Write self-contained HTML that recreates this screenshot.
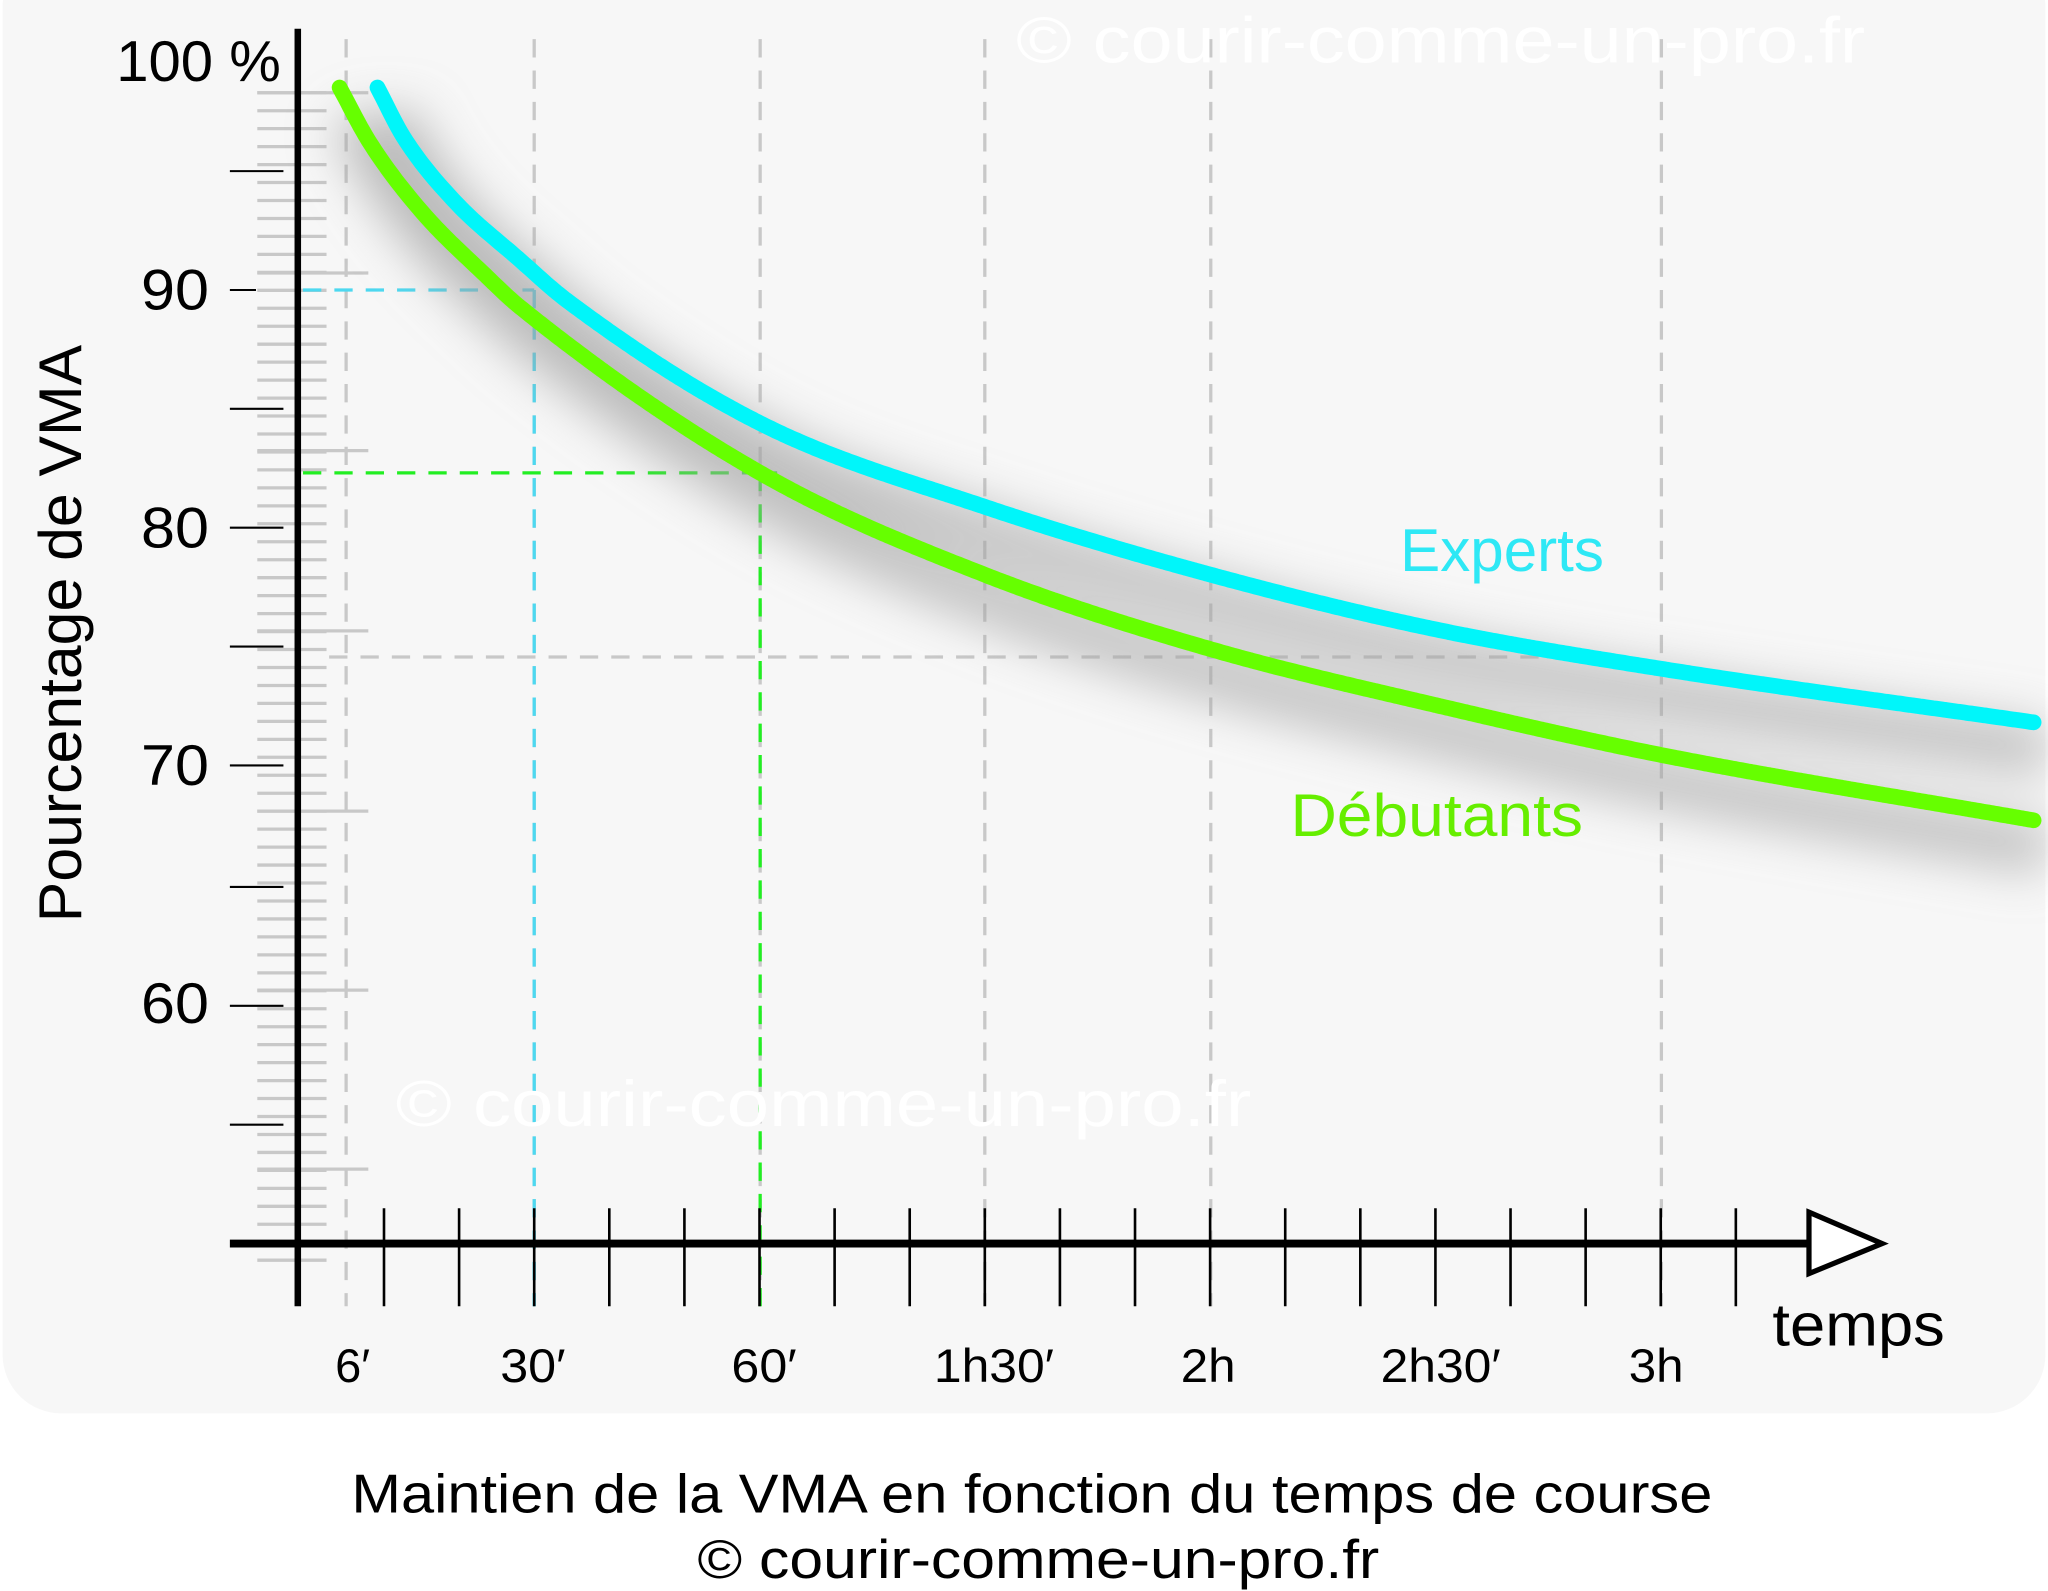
<!DOCTYPE html>
<html><head><meta charset="utf-8"><style>
html,body{margin:0;padding:0;background:#fff;}
svg{display:block;}
text{font-family:"Liberation Sans",sans-serif;}
</style></head><body>
<svg id="s" width="2048" height="1591" viewBox="0 0 1568 1218" preserveAspectRatio="none" xmlns="http://www.w3.org/2000/svg">
<defs>
<filter id="blur" x="-20%" y="-50%" width="140%" height="200%"><feGaussianBlur stdDeviation="18"/></filter>
</defs>
<rect x="2" y="-40" width="1564" height="1122" rx="45" fill="#f7f7f7"/>
<g id="grid"></g>
<text x="778" y="48" font-size="50" fill="#ffffff" textLength="650" lengthAdjust="spacingAndGlyphs">© courir-comme-un-pro.fr</text>
<text x="303" y="862" font-size="50" fill="#ffffff" textLength="655" lengthAdjust="spacingAndGlyphs">© courir-comme-un-pro.fr</text>
<g id="curves"></g>
<line x1="228" y1="22" x2="228" y2="1000" stroke="#000" stroke-width="5"/>
<line x1="176" y1="952" x2="1386" y2="952" stroke="#000" stroke-width="6"/>
<polygon points="1385,928 1441,952 1385,975" fill="#fff" stroke="#000" stroke-width="4" stroke-linejoin="miter"/>
<g font-size="44" fill="#000" text-anchor="end">
<text x="215" y="62" textLength="126" lengthAdjust="spacingAndGlyphs">100 %</text>
<text x="160" y="237" textLength="52" lengthAdjust="spacingAndGlyphs">90</text>
<text x="160" y="419" textLength="52" lengthAdjust="spacingAndGlyphs">80</text>
<text x="160" y="601" textLength="52" lengthAdjust="spacingAndGlyphs">70</text>
<text x="160" y="783" textLength="52" lengthAdjust="spacingAndGlyphs">60</text>
</g>
<text transform="translate(62,485) rotate(-90)" font-size="46" text-anchor="middle" fill="#000" textLength="442" lengthAdjust="spacingAndGlyphs">Pourcentage de VMA</text>
<g font-size="36" fill="#000" text-anchor="middle">
<text x="270" y="1058">6′</text>
<text x="408" y="1058" textLength="50" lengthAdjust="spacingAndGlyphs">30′</text>
<text x="585" y="1058" textLength="50" lengthAdjust="spacingAndGlyphs">60′</text>
<text x="761" y="1058" textLength="92" lengthAdjust="spacingAndGlyphs">1h30′</text>
<text x="925" y="1058" textLength="42" lengthAdjust="spacingAndGlyphs">2h</text>
<text x="1103" y="1058" textLength="92" lengthAdjust="spacingAndGlyphs">2h30′</text>
<text x="1268" y="1058" textLength="42" lengthAdjust="spacingAndGlyphs">3h</text>
</g>
<text x="1357" y="1030" font-size="46" fill="#000" textLength="132" lengthAdjust="spacingAndGlyphs">temps</text>
<text x="1072" y="437" font-size="46" fill="#2ee8f5" textLength="156" lengthAdjust="spacingAndGlyphs">Experts</text>
<text x="988" y="640" font-size="46" fill="#66ee00" textLength="224" lengthAdjust="spacingAndGlyphs">Débutants</text>
<text x="790" y="1158" font-size="42" fill="#000" text-anchor="middle" textLength="1042" lengthAdjust="spacingAndGlyphs">Maintien de la VMA en fonction du temps de course</text>
<text x="795" y="1208" font-size="42" fill="#000" text-anchor="middle" textLength="522" lengthAdjust="spacingAndGlyphs">© courir-comme-un-pro.fr</text>
</svg>
<script>
var NS="http://www.w3.org/2000/svg";
function el(p,t,a){var e=document.createElementNS(NS,t);for(var k in a)e.setAttribute(k,a[k]);p.appendChild(e);return e;}
var g=document.getElementById('grid');
for(var y=71;y<=968;y+=13.75){el(g,'line',{x1:197,y1:y,x2:250,y2:y,stroke:'#c8c8c8','stroke-width':2.5});}
[71,209,345,483,621,758,895].forEach(function(y){el(g,'line',{x1:197,y1:y,x2:282,y2:y,stroke:'#c8c8c8','stroke-width':2.5});});
[131,313,404,495,586,679,770,861].forEach(function(y){el(g,'line',{x1:176,y1:y,x2:217,y2:y,stroke:'#000','stroke-width':1.6});});
el(g,'line',{x1:176,y1:222,x2:196,y2:222,stroke:'#000','stroke-width':1.6});
[265,409,582,754,927,1272].forEach(function(x){el(g,'line',{x1:x,y1:30,x2:x,y2:1000,stroke:'#c8c8c8','stroke-width':2.5,'stroke-dasharray':'14 10'});});
el(g,'line',{x1:409,y1:222,x2:409,y2:1000,stroke:'#4dd8f0','stroke-width':2.5,'stroke-dasharray':'14 10'});
el(g,'line',{x1:582,y1:362,x2:582,y2:1000,stroke:'#22ee22','stroke-width':2.5,'stroke-dasharray':'14 10'});
el(g,'line',{x1:232,y1:222,x2:409,y2:222,stroke:'#4dd8f0','stroke-width':2.5,'stroke-dasharray':'14 10'});
el(g,'line',{x1:232,y1:362,x2:595,y2:362,stroke:'#22ee22','stroke-width':2.5,'stroke-dasharray':'14 10'});
el(g,'line',{x1:252,y1:503,x2:1180,y2:503,stroke:'#c8c8c8','stroke-width':2.5,'stroke-dasharray':'14 10'});
for(var i=0;i<19;i++){var x=294+i*57.5;el(g,'line',{x1:x,y1:925,x2:x,y2:1000,stroke:'#000','stroke-width':2});}
// monotone cubic (Fritsch-Carlson)
function mono(p){var n=p.length,d=[],m=[];
for(var i=0;i<n-1;i++)d.push((p[i+1][1]-p[i][1])/(p[i+1][0]-p[i][0]));
m[0]=d[0];m[n-1]=d[n-2];
for(i=1;i<n-1;i++){m[i]=(d[i-1]*d[i]<=0)?0:(d[i-1]+d[i])/2;}
for(i=0;i<n-1;i++){if(d[i]==0){m[i]=m[i+1]=0;continue;}var a=m[i]/d[i],b=m[i+1]/d[i],s=a*a+b*b;if(s>9){var t=3/Math.sqrt(s);m[i]=t*a*d[i];m[i+1]=t*b*d[i];}}
var out=[];
for(i=0;i<n-1;i++){var x0=p[i][0],x1=p[i+1][0],y0=p[i][1],y1=p[i+1][1],h=x1-x0;
for(var x=x0;x<x1;x+=2){var t=(x-x0)/h,t2=t*t,t3=t2*t;
var y=(2*t3-3*t2+1)*y0+(t3-2*t2+t)*h*m[i]+(-2*t3+3*t2)*y1+(t3-t2)*h*m[i+1];out.push(x.toFixed(1)+','+y.toFixed(1));}}
out.push(p[n-1][0]+','+p[n-1][1]);return 'M'+out.join(' L');}
var cy=[[289,67],[309,105],[347,153],[398,199],[434,230],[582,324],[754,388],[927,440],[1100,482],[1272,512],[1557,553]];
var gr=[[260,67],[283,109],[322,161],[373,212],[398,235],[582,362],[754,440],[927,497],[1100,540],[1272,578],[1557,628]];
var c=document.getElementById('curves');
var sh=el(c,'g',{filter:'url(#blur)',transform:'translate(10,22)'});
el(sh,'path',{d:mono(cy),fill:'none',stroke:'#a0a0a0','stroke-width':40,'stroke-opacity':0.6});
el(sh,'path',{d:mono(gr),fill:'none',stroke:'#a0a0a0','stroke-width':40,'stroke-opacity':0.6});
el(c,'path',{d:mono(cy),fill:'none',stroke:'#00f6fa','stroke-width':12,'stroke-linecap':'round','stroke-linejoin':'round'});
el(c,'path',{d:mono(gr),fill:'none',stroke:'#66ff00','stroke-width':12,'stroke-linecap':'round','stroke-linejoin':'round'});
</script>
</body></html>
